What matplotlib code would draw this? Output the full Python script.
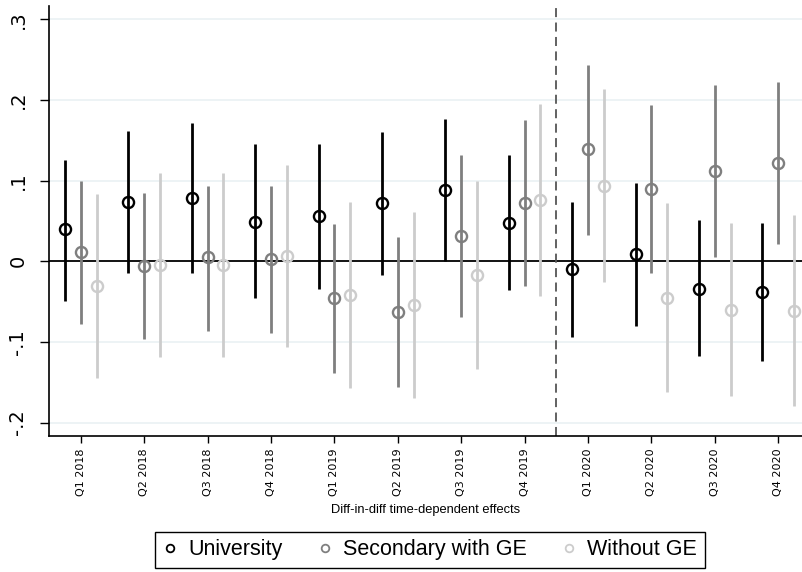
import matplotlib
matplotlib.use("Agg")
import matplotlib.pyplot as plt
import numpy as np

plt.rcParams["font.family"] = ["DejaVu Sans"]
arial_like = ["Liberation Sans", "DejaVu Sans"]

quarters = ["Q1 2018", "Q2 2018", "Q3 2018", "Q4 2018",
            "Q1 2019", "Q2 2019", "Q3 2019", "Q4 2019",
            "Q1 2020", "Q2 2020", "Q3 2020", "Q4 2020"]

# University
uni_est = [0.040, 0.074, 0.078, 0.049, 0.056, 0.072, 0.089, 0.048, -0.009, 0.009, -0.034, -0.038]
uni_lo = [-0.049, -0.014, -0.015, -0.046, -0.034, -0.017, 0.001, -0.036, -0.094, -0.080, -0.118, -0.124]
uni_hi = [0.126, 0.162, 0.172, 0.145, 0.146, 0.161, 0.176, 0.132, 0.074, 0.097, 0.051, 0.047]

# Secondary with GE
sec_est = [0.012, -0.006, 0.005, 0.003, -0.046, -0.063, 0.032, 0.072, 0.139, 0.090, 0.112, 0.122]
sec_lo = [-0.078, -0.096, -0.086, -0.089, -0.138, -0.156, -0.069, -0.031, 0.033, -0.015, 0.005, 0.021]
sec_hi = [0.100, 0.085, 0.094, 0.094, 0.046, 0.030, 0.132, 0.175, 0.244, 0.194, 0.219, 0.222]

# Without GE
wo_est = [-0.031, -0.005, -0.005, 0.007, -0.042, -0.054, -0.017, 0.076, 0.094, -0.046, -0.060, -0.062]
wo_lo = [-0.145, -0.119, -0.119, -0.106, -0.157, -0.169, -0.134, -0.043, -0.026, -0.162, -0.167, -0.180]
wo_hi = [0.084, 0.110, 0.110, 0.119, 0.074, 0.061, 0.100, 0.195, 0.214, 0.072, 0.048, 0.057]

series = [
    ("University", uni_est, uni_lo, uni_hi, "black", -0.25),
    ("Secondary with GE", sec_est, sec_lo, sec_hi, "#7f7f7f", 0.0),
    ("Without GE", wo_est, wo_lo, wo_hi, "#cccccc", 0.25),
]

fig = plt.figure(figsize=(8.03, 5.72), dpi=100)
ax = fig.add_axes([0.061, 0.238, 0.939, 0.7515])

x = np.arange(1, len(quarters) + 1)

for yv in [-0.2, -0.1, 0.1, 0.2, 0.3]:
    ax.axhline(yv, color="#eaf1f3", linewidth=1.2, zorder=0)
ax.axhline(0, color="black", linewidth=1.3, zorder=1)
ax.axvline(8.5, color="#555555", linewidth=1.3, linestyle=(0, (5, 3)), zorder=1)

handles = []
for name, est, lo, hi, col, off in series:
    ax.vlines(x + off, lo, hi, color=col, linewidth=2, zorder=2)
    ax.plot(x + off, est, "o", mfc="none", mec=col, mew=1.7, ms=8, zorder=3)
    h, = ax.plot([], [], "o", mfc="none", mec=col, mew=1.3, ms=5.5, label=name)
    handles.append(h)

ax.set_xlim(0.5, 12.39)
ax.set_ylim(-0.2165, 0.3167)
ax.set_xticks(x)
ax.set_xticklabels(quarters, rotation=90, fontsize=8)
ax.set_yticks([-0.2, -0.1, 0, 0.1, 0.2, 0.3])
ax.set_yticklabels(["-.2", "-.1", "0", ".1", ".2", ".3"], rotation=90,
                   fontsize=14, va="center")
ax.tick_params(axis="x", length=5, width=1, pad=4)
ax.tick_params(axis="y", length=6.5, width=1, pad=9)
ax.set_xlabel("Diff-in-diff time-dependent effects", fontsize=9.3,
              family=arial_like, labelpad=6)

for s in ["top", "right"]:
    ax.spines[s].set_visible(False)
for s in ["left", "bottom"]:
    ax.spines[s].set_linewidth(1.2)

leg = fig.legend(handles=handles, loc="center", bbox_to_anchor=(0.5355, 0.0385),
                 ncol=3, prop={"family": arial_like, "size": 15.5}, fancybox=False,
                 edgecolor="black", framealpha=1, handlelength=0.7,
                 handletextpad=0.5, columnspacing=1.6, borderpad=0.35)
leg.get_frame().set_linewidth(1.0)

fig.savefig("out.png", dpi=100)
